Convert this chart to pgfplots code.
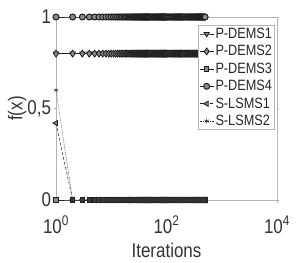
\documentclass[border=0pt]{standalone}
\usepackage{fontspec}
\setmainfont[FakeStretch=0.85]{Liberation Sans}
\usepackage{pgfplots}
\usepackage{pgfplotstable}
\pgfplotsset{compat=1.18}
\definecolor{mfill}{HTML}{8A8A8A}
\definecolor{medge}{HTML}{1E1E1E}
\definecolor{axgray}{HTML}{B4B4B4}
\pgfplotstableread{
x d1 d2 d3 d4 s1 s2
1 0.8 0.8 0 1 0.42 0.6
2 0.8 0.8 0 1 0 0
3 0.8 0.8 0 1 0 0
4 0.8 0.8 0 1 0 0
5 0.8 0.8 0 1 0 0
6 0.8 0.8 0 1 0 0
7 0.8 0.8 0 1 0 0
8 0.8 0.8 0 1 0 0
9 0.8 0.8 0 1 0 0
10 0.8 0.8 0 1 0 0
11 0.8 0.8 0 1 0 0
12 0.8 0.8 0 1 0 0
13 0.8 0.8 0 1 0 0
14 0.8 0.8 0 1 0 0
15 0.8 0.8 0 1 0 0
16 0.8 0.8 0 1 0 0
17 0.8 0.8 0 1 0 0
18 0.8 0.8 0 1 0 0
19 0.8 0.8 0 1 0 0
20 0.8 0.8 0 1 0 0
21 0.8 0.8 0 1 0 0
22 0.8 0.8 0 1 0 0
23 0.8 0.8 0 1 0 0
24 0.8 0.8 0 1 0 0
25 0.8 0.8 0 1 0 0
26 0.8 0.8 0 1 0 0
27 0.8 0.8 0 1 0 0
28 0.8 0.8 0 1 0 0
29 0.8 0.8 0 1 0 0
30 0.8 0.8 0 1 0 0
31 0.8 0.8 0 1 0 0
32 0.8 0.8 0 1 0 0
33 0.8 0.8 0 1 0 0
34 0.8 0.8 0 1 0 0
35 0.8 0.8 0 1 0 0
36 0.8 0.8 0 1 0 0
37 0.8 0.8 0 1 0 0
38 0.8 0.8 0 1 0 0
39 0.8 0.8 0 1 0 0
40 0.8 0.8 0 1 0 0
41 0.8 0.8 0 1 0 0
42 0.8 0.8 0 1 0 0
43 0.8 0.8 0 1 0 0
44 0.8 0.8 0 1 0 0
45 0.8 0.8 0 1 0 0
46 0.8 0.8 0 1 0 0
47 0.8 0.8 0 1 0 0
48 0.8 0.8 0 1 0 0
50 0.8 0.8 0 1 0 0
52 0.8 0.8 0 1 0 0
54 0.8 0.8 0 1 0 0
56 0.8 0.8 0 1 0 0
58 0.8 0.8 0 1 0 0
60 0.8 0.8 0 1 0 0
62 0.8 0.8 0 1 0 0
64 0.8 0.8 0 1 0 0
66 0.8 0.8 0 1 0 0
68 0.8 0.8 0 1 0 0
70 0.8 0.8 0 1 0 0
72 0.8 0.8 0 1 0 0
74 0.8 0.8 0 1 0 0
76 0.8 0.8 0 1 0 0
78 0.8 0.8 0 1 0 0
80 0.8 0.8 0 1 0 0
82 0.8 0.8 0 1 0 0
84 0.8 0.8 0 1 0 0
86 0.8 0.8 0 1 0 0
88 0.8 0.8 0 1 0 0
90 0.8 0.8 0 1 0 0
92 0.8 0.8 0 1 0 0
94 0.8 0.8 0 1 0 0
96 0.8 0.8 0 1 0 0
98 0.8 0.8 0 1 0 0
100 0.8 0.8 0 1 0 0
105 0.8 0.8 0 1 0 0
110 0.8 0.8 0 1 0 0
115 0.8 0.8 0 1 0 0
120 0.8 0.8 0 1 0 0
125 0.8 0.8 0 1 0 0
130 0.8 0.8 0 1 0 0
135 0.8 0.8 0 1 0 0
140 0.8 0.8 0 1 0 0
145 0.8 0.8 0 1 0 0
150 0.8 0.8 0 1 0 0
155 0.8 0.8 0 1 0 0
160 0.8 0.8 0 1 0 0
165 0.8 0.8 0 1 0 0
170 0.8 0.8 0 1 0 0
175 0.8 0.8 0 1 0 0
180 0.8 0.8 0 1 0 0
185 0.8 0.8 0 1 0 0
190 0.8 0.8 0 1 0 0
195 0.8 0.8 0 1 0 0
200 0.8 0.8 0 1 0 0
210 0.8 0.8 0 1 0 0
220 0.8 0.8 0 1 0 0
230 0.8 0.8 0 1 0 0
240 0.8 0.8 0 1 0 0
250 0.8 0.8 0 1 0 0
260 0.8 0.8 0 1 0 0
270 0.8 0.8 0 1 0 0
280 0.8 0.8 0 1 0 0
290 0.8 0.8 0 1 0 0
300 0.8 0.8 0 1 0 0
310 0.8 0.8 0 1 0 0
320 0.8 0.8 0 1 0 0
330 0.8 0.8 0 1 0 0
340 0.8 0.8 0 1 0 0
350 0.8 0.8 0 1 0 0
360 0.8 0.8 0 1 0 0
370 0.8 0.8 0 1 0 0
380 0.8 0.8 0 1 0 0
390 0.8 0.8 0 1 0 0
400 0.8 0.8 0 1 0 0
410 0.8 0.8 0 1 0 0
420 0.8 0.8 0 1 0 0
430 0.8 0.8 0 1 0 0
440 0.8 0.8 0 1 0 0
450 0.8 0.8 0 1 0 0
460 0.8 0.8 0 1 0 0
470 0.8 0.8 0 1 0 0
480 0.8 0.8 0 1 0 0
490 0.8 0.8 0 1 0 0
500 0.8 0.8 0 1 0 0
}\datatable
\begin{document}
\begin{tikzpicture}
\begin{axis}[
  at={(0,0)}, anchor=south west,
  scale only axis, width=221bp, height=183bp,
  xmode=log, xmin=1, xmax=10000,
  ymin=0, ymax=1,
  xtick={1,100,10000},
  xticklabels={10\textsuperscript{0},10\textsuperscript{2},10\textsuperscript{4}},
  ytick={0,0.5,1},
  yticklabels={0,{0,5},1},
  axis line style={axgray, line width=0.9pt},
  tick style={axgray, line width=0.6pt},
  tick align=outside, major tick length=2.5bp,
  xtick pos=bottom, ytick pos=both,
  xminorticks=false,
  tick label style={font=\fontsize{20}{22}\selectfont, text=black!80},
  xticklabel style={yshift=-10bp},
  yticklabel style={xshift=1bp},
  label style={font=\fontsize{20}{22}\selectfont, text=black!80},
  xlabel={Iterations},
  ylabel={f(x)},
  xlabel style={yshift=-3bp},
  ylabel style={yshift=-6bp},
  clip=false,
  legend cell align=left,
  legend style={at={(rel axis cs:0.99,0.955)}, anchor=north east,
    draw=axgray, line width=0.6pt, font=\fontsize{15}{17}\selectfont,
    text=black!85, inner sep=1bp, row sep=2.5bp,
    nodes={inner sep=1.5bp}},
  legend image code/.code={
    \draw[#1, mark repeat=2, mark phase=2] plot coordinates {(0bp,0bp) (7bp,0bp) (14bp,0bp)};},
  every axis plot/.append style={line width=0.7pt},
]
\addplot[medge, mark=triangle*, mark options={rotate=180, fill=mfill, draw=medge, line width=0.8pt}, mark size=3bp] table[x=x, y=d1] {\datatable};
\addlegendentry{P-DEMS1}
\addplot[medge, mark=diamond*, mark options={fill=mfill, draw=medge, line width=0.8pt}, mark size=3.4bp] table[x=x, y=d2] {\datatable};
\addlegendentry{P-DEMS2}
\addplot[medge, mark=square*, mark options={fill=mfill, draw=medge, line width=0.8pt}, mark size=2.2bp] table[x=x, y=d3] {\datatable};
\addlegendentry{P-DEMS3}
\addplot[medge, mark=*, mark options={fill=mfill, draw=medge, line width=1pt}, mark size=3bp] table[x=x, y=d4] {\datatable};
\addlegendentry{P-DEMS4}
\addplot[medge, densely dashed, line width=0.5pt, mark=triangle*, mark options={solid, rotate=90, fill=mfill, draw=medge, line width=0.8pt}, mark size=3bp] table[x=x, y=s1] {\datatable};
\addlegendentry{S-LSMS1}
\addplot[black!80, densely dotted, line width=0.5pt, mark=asterisk, mark options={solid, black!80, line width=0.5pt}, mark size=2.5bp] table[x=x, y=s2] {\datatable};
\addlegendentry{S-LSMS2}
\end{axis}
\pgfresetboundingbox
\path[use as bounding box] (-56bp,-63bp) rectangle (248bp,200bp);
\end{tikzpicture}
\end{document}
